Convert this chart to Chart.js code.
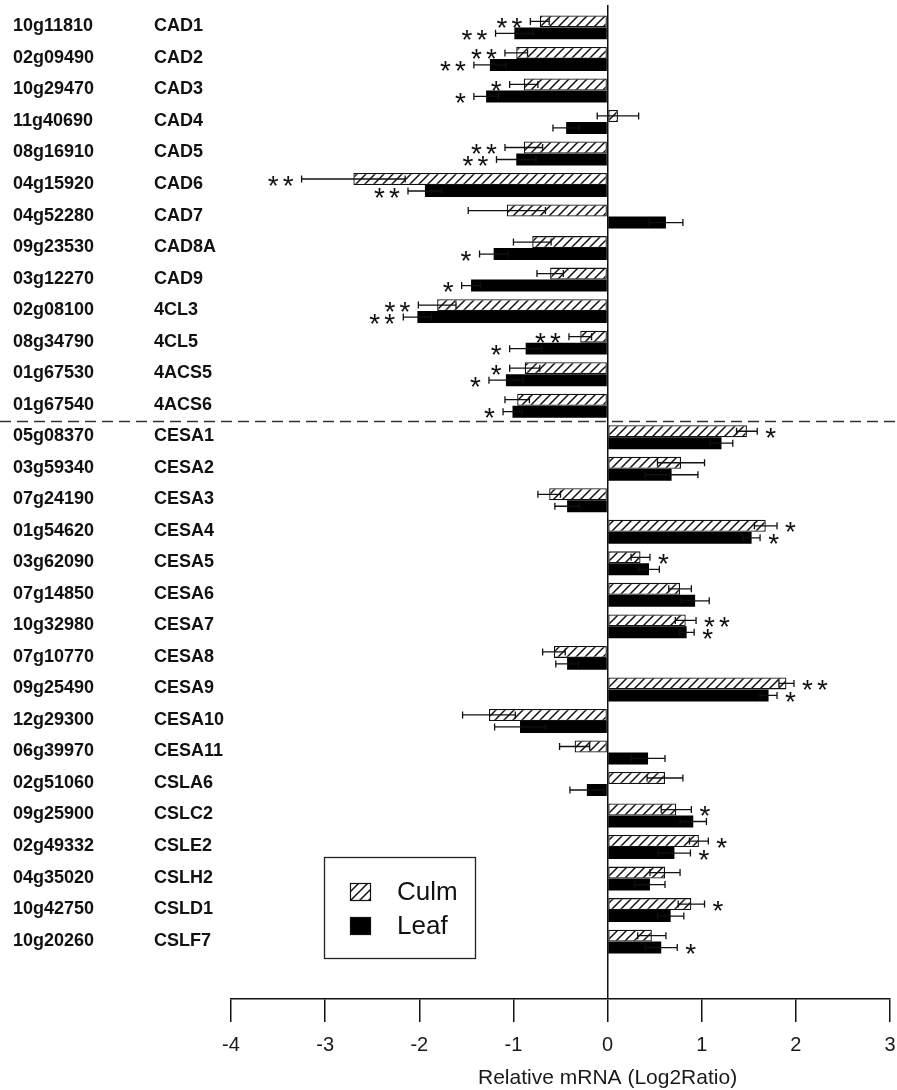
<!DOCTYPE html>
<html>
<head>
<meta charset="utf-8">
<script src="https://cdn.jsdelivr.net/npm/chart.js@4.4.1/dist/chart.umd.min.js"></script>
<style>
  html, body { margin: 0; padding: 0; background: #fff; }
  #wrap { width: 897px; height: 1090px; position: relative; }
</style>
</head>
<body>
<div id="wrap"><canvas id="c"></canvas></div>
<script>
// Gene identifiers (LOC_Os prefix dropped) and short names, top to bottom
const geneIds = ['10g11810','02g09490','10g29470','11g40690','08g16910','04g15920','04g52280',
  '09g23530','03g12270','02g08100','08g34790','01g67530','01g67540',
  '05g08370','03g59340','07g24190','01g54620','03g62090','07g14850','10g32980',
  '07g10770','09g25490','12g29300','06g39970','02g51060','09g25900','02g49332',
  '04g35020','10g42750','10g20260'];
const geneNames = ['CAD1','CAD2','CAD3','CAD4','CAD5','CAD6','CAD7','CAD8A','CAD9','4CL3',
  '4CL5','4ACS5','4ACS6','CESA1','CESA2','CESA3','CESA4','CESA5','CESA6','CESA7',
  'CESA8','CESA9','CESA10','CESA11','CSLA6','CSLC2','CSLE2','CSLH2','CSLD1','CSLF7'];

// Log2 expression ratios and standard errors
const culmValues = [-0.72,-0.97,-0.89,0.11,-0.89,-2.70,-1.07,-0.80,-0.61,-1.81,
  -0.29,-0.88,-0.96,1.48,0.78,-0.62,1.68,0.35,0.77,0.83,
  -0.57,1.90,-1.26,-0.35,0.61,0.73,0.97,0.61,0.89,0.47];
const culmErrors = [0.10,0.12,0.15,0.22,0.20,0.55,0.41,0.20,0.14,0.20,
  0.12,0.16,0.13,0.11,0.25,0.12,0.12,0.10,0.12,0.11,
  0.12,0.08,0.28,0.16,0.19,0.16,0.10,0.16,0.14,0.15];
const leafValues = [-0.99,-1.25,-1.29,-0.44,-0.97,-1.94,0.62,-1.21,-1.45,-2.02,
  -0.87,-1.08,-1.01,1.21,0.68,-0.43,1.53,0.44,0.93,0.84,
  -0.43,1.71,-0.93,0.43,-0.22,0.91,0.71,0.45,0.67,0.57];
const leafErrors = [0.20,0.17,0.13,0.14,0.21,0.18,0.18,0.15,0.10,0.15,
  0.17,0.18,0.10,0.12,0.28,0.13,0.09,0.11,0.15,0.08,
  0.12,0.09,0.27,0.18,0.18,0.14,0.17,0.16,0.14,0.17];

// Significance marks
const culmSig = ['**','**','*','','**','**','','','','**',
  '**','*','','*','','','*','*','','**',
  '','**','','','','*','*','','*',''];
const leafSig = ['**','**','*','','**','**','','*','*','**',
  '*','*','*','','','','*','','','*',
  '','*','','','','','*','','','*'];

const seriesNames = ['Culm', 'Leaf'];
const xTicks = [-4, -3, -2, -1, 0, 1, 2, 3];
const xTitle = 'Relative mRNA (Log2Ratio)';
const lastLigninRow = 12;
// row axis extent (rows sit at 0..29, top row first)
const rowMin = -0.71;
const rowMax = 30.82;

const FONT = '"Liberation Sans", Arial, sans-serif';

function hatchPattern() {
  const s = 9;
  const c = document.createElement('canvas');
  c.width = s; c.height = s;
  const g = c.getContext('2d');
  g.fillStyle = '#fff';
  g.fillRect(0, 0, s, s);
  g.strokeStyle = '#111';
  g.lineWidth = 1.5;
  g.beginPath();
  g.moveTo(-1, s + 1); g.lineTo(s + 1, -1);
  g.moveTo(-2, 2); g.lineTo(2, -2);
  g.moveTo(s - 2, s + 2); g.lineTo(s + 2, s - 2);
  g.stroke();
  return g.createPattern(c, 'repeat');
}
const hatch = hatchPattern();

const toPoints = vals => vals.map((v, i) => ({ x: v, y: i }));

// Error bars, drawn through the x scale on top of the bars
const errorBars = {
  id: 'errorBars',
  afterDatasetsDraw(chart) {
    const { ctx } = chart;
    const xs = chart.scales.x;
    const errs = [culmErrors, leafErrors];
    const vals = [culmValues, leafValues];
    ctx.save();
    ctx.strokeStyle = '#111';
    ctx.lineWidth = 1.3;
    chart.data.datasets.forEach((ds, di) => {
      const meta = chart.getDatasetMeta(di);
      meta.data.forEach((bar, i) => {
        const v = vals[di][i], e = errs[di][i];
        const x1 = xs.getPixelForValue(v - e);
        const x2 = xs.getPixelForValue(v + e);
        const y = bar.y;
        ctx.beginPath();
        ctx.moveTo(x1, y); ctx.lineTo(x2, y);
        ctx.moveTo(x1, y - 3.5); ctx.lineTo(x1, y + 3.5);
        ctx.moveTo(x2, y - 3.5); ctx.lineTo(x2, y + 3.5);
        ctx.stroke();
      });
    });
    ctx.restore();
  }
};

// Asterisks beyond the outer end of each error bar
const sigMarks = {
  id: 'sigMarks',
  afterDatasetsDraw(chart) {
    const { ctx } = chart;
    const xs = chart.scales.x;
    const sigs = [culmSig, leafSig];
    const errs = [culmErrors, leafErrors];
    const vals = [culmValues, leafValues];
    ctx.save();
    ctx.fillStyle = '#111';
    ctx.font = '28px ' + FONT;
    ctx.textAlign = 'center';
    ctx.textBaseline = 'alphabetic';
    const m = ctx.measureText('*');
    const mid = (m.actualBoundingBoxAscent - m.actualBoundingBoxDescent) / 2;
    chart.data.datasets.forEach((ds, di) => {
      const meta = chart.getDatasetMeta(di);
      meta.data.forEach((bar, i) => {
        const s = sigs[di][i];
        if (!s) return;
        const v = vals[di][i], e = errs[di][i];
        const dir = v < 0 ? -1 : 1;
        const end = xs.getPixelForValue(v + dir * e);
        for (let k = 0; k < s.length; k++) {
          const cx = end + dir * (13.5 + 15 * k);
          ctx.fillText('*', cx, bar.y + 1.5 + mid);
        }
      });
    });
    ctx.restore();
  }
};

// Row labels, axis title, dashed group divider and legend box
const decorations = {
  id: 'decorations',
  afterDraw(chart) {
    const { ctx } = chart;
    const ys = chart.scales.y;
    const xs = chart.scales.x;
    ctx.save();
    ctx.fillStyle = '#111';
    ctx.font = 'bold 18px ' + FONT;
    ctx.textAlign = 'left';
    ctx.textBaseline = 'middle';
    geneIds.forEach((id, i) => {
      const y = ys.getPixelForValue(i) - 1;
      ctx.fillText(id, 13, y);
      ctx.fillText(geneNames[i], 154, y);
    });

    // x axis title, centred under the zero line
    ctx.fillStyle = '#1a1a1a';
    ctx.font = '21px ' + FONT;
    ctx.textAlign = 'center';
    ctx.fillText(xTitle, xs.getPixelForValue(0), xs.bottom - 12);

    const yd = ys.getPixelForValue(lastLigninRow + 0.5);
    ctx.strokeStyle = '#333';
    ctx.lineWidth = 1.5;
    ctx.setLineDash([11, 6]);
    ctx.beginPath();
    ctx.moveTo(0, yd); ctx.lineTo(chart.width, yd);
    ctx.stroke();
    ctx.setLineDash([]);

    // legend
    ctx.strokeStyle = '#222';
    ctx.lineWidth = 1.3;
    ctx.strokeRect(324.5, 857.5, 151, 101);
    const fills = [hatch, '#000'];
    const rowsY = [892, 926];
    ctx.font = '26px ' + FONT;
    ctx.textAlign = 'left';
    ctx.textBaseline = 'middle';
    seriesNames.forEach((name, k) => {
      ctx.fillStyle = fills[k];
      ctx.fillRect(350, rowsY[k] - 9, 21, 18);
      ctx.strokeStyle = '#111';
      ctx.lineWidth = 1.2;
      ctx.strokeRect(350.5, rowsY[k] - 8.5, 20, 17);
      ctx.fillStyle = '#111';
      ctx.fillText(name, 397, rowsY[k] + 1);
    });
    ctx.restore();
  }
};

new Chart(document.getElementById('c'), {
  type: 'bar',
  data: {
    datasets: [
      {
        label: seriesNames[0],
        data: toPoints(culmValues),
        backgroundColor: hatch,
        borderColor: '#111',
        borderWidth: 1.3,
        borderSkipped: false
      },
      {
        label: seriesNames[1],
        data: toPoints(leafValues),
        backgroundColor: '#000',
        borderColor: '#000',
        borderWidth: 0,
        borderSkipped: false
      }
    ]
  },
  options: {
    indexAxis: 'y',
    responsive: true,
    maintainAspectRatio: false,
    animation: false,
    events: [],
    layout: { padding: { left: 231, right: 7, top: 5, bottom: 0 } },
    datasets: { bar: { categoryPercentage: 0.76, barPercentage: 1.0 } },
    plugins: { legend: { display: false }, tooltip: { enabled: false } },
    scales: {
      x: {
        type: 'linear',
        min: xTicks[0],
        max: xTicks[xTicks.length - 1],
        afterBuildTicks(scale) { scale.ticks = xTicks.map(v => ({ value: v })); },
        afterFit(scale) {
          scale.height = 91;
          scale.paddingLeft = 0;
          scale.paddingRight = 0;
        },
        grid: {
          drawOnChartArea: true,
          color: c => (c.tick && c.tick.value === 0 ? '#111' : 'rgba(0,0,0,0)'),
          lineWidth: 1.5,
          tickColor: '#111',
          tickLength: 23,
          tickWidth: 1.5
        },
        border: { display: true, color: '#111', width: 1.5 },
        ticks: {
          color: '#1a1a1a',
          padding: 11,
          font: { family: FONT, size: 20 },
          callback: v => String(v)
        },
        title: { display: false, text: xTitle }
      },
      y: {
        type: 'linear',
        display: false,
        reverse: true,
        offset: false,
        bounds: 'data',
        grace: 0,
        grid: { offset: false },
        min: rowMin,
        max: rowMax,
        afterDataLimits(scale) { scale.min = rowMin; scale.max = rowMax; },
        afterBuildTicks(scale) { scale.ticks = [{ value: rowMin }, { value: rowMax }]; }
      }
    }
  },
  plugins: [errorBars, sigMarks, decorations]
});
</script>
</body>
</html>
